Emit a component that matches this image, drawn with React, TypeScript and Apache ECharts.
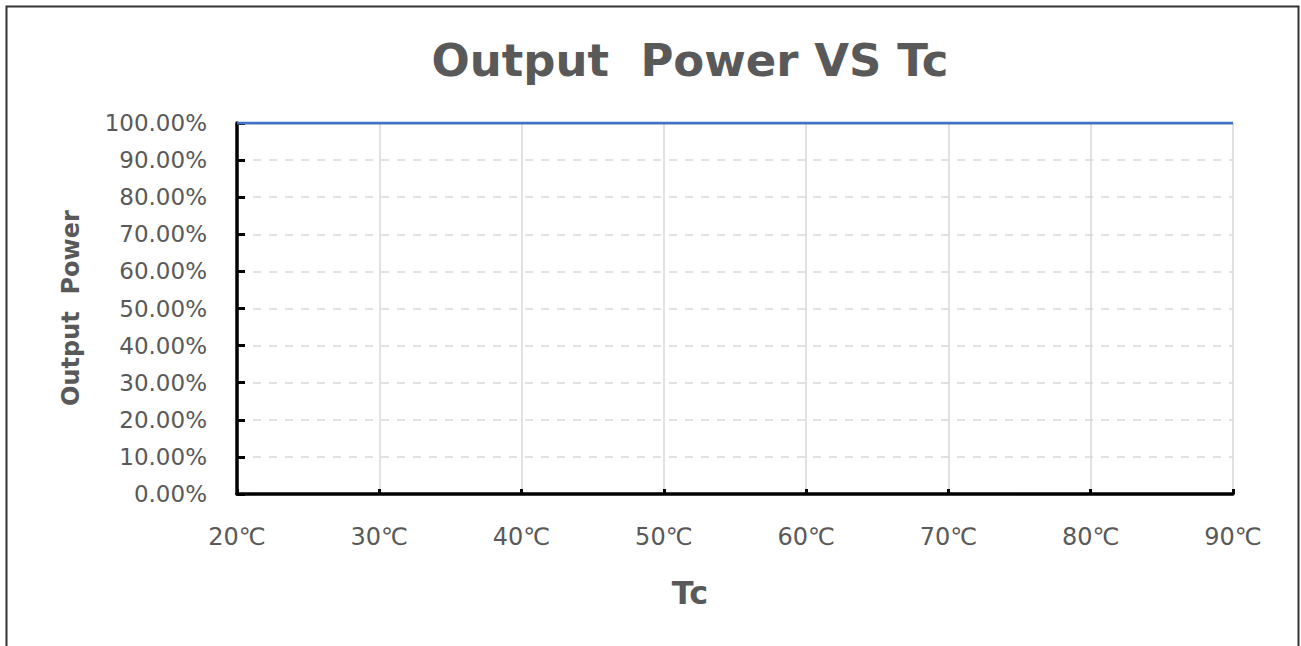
import React, { useEffect, useRef } from "react";
import * as echarts from "echarts";

const temperatures = [20, 30, 40, 50, 60, 70, 80, 90];
const outputPower = [1, 1, 1, 1, 1, 1, 1, 1];
const titleText = "Output  Power VS Tc";
const yTitle = "Output  Power";
const xTitle = "Tc";

export default function App() {
  const ref = useRef<HTMLDivElement>(null);
  useEffect(() => {
    document.body.style.margin = "0";
    const chart = echarts.init(ref.current!, null, { renderer: "svg" });
    const gray = "#595959";
    chart.setOption({
      animation: false,
      backgroundColor: "#ffffff",
      title: {
        text: titleText,
        left: 685,
        top: 33,
        textAlign: "center",
        textStyle: { fontFamily: "DejaVu Sans", fontWeight: "bold", fontSize: 45, color: gray },
      },
      grid: { left: 237, right: 68, top: 123, bottom: 152, containLabel: false },
      xAxis: {
        type: "value",
        min: 20,
        max: 90,
        interval: 10,
        axisLine: { lineStyle: { color: "#000", width: 3.5 } },
        axisTick: { show: true, inside: true, length: 5, lineStyle: { color: "#000", width: 3 } },
        axisLabel: {
          formatter: (v: number) => v + "℃",
          color: gray,
          fontFamily: "DejaVu Sans",
          fontSize: 24,
          margin: 31,
        },
        splitLine: { show: true, lineStyle: { color: "#d9d9d9", width: 1.5, type: "solid" } },
      },
      yAxis: {
        type: "value",
        min: 0,
        max: 1,
        interval: 0.1,
        axisLine: { show: true, lineStyle: { color: "#000", width: 3.5 } },
        axisTick: { show: true, inside: true, length: 8, lineStyle: { color: "#000", width: 3 } },
        axisLabel: {
          formatter: (v: number) => (v * 100).toFixed(2) + "%",
          color: gray,
          fontFamily: "DejaVu Sans",
          fontSize: 23,
          margin: 30,
        },
        splitLine: { show: true, lineStyle: { color: "#d9d9d9", width: 1.5, type: [8, 8] } },
      },
      series: [
        {
          type: "line",
          data: temperatures.map((t, i) => [t, outputPower[i]]),
          showSymbol: false,
          lineStyle: { color: "#4472c4", width: 3 },
          z: 5,
        },
      ],
      graphic: [
        {
          type: "rect",
          shape: { x: 6.5, y: 6.5, width: 1292, height: 700 },
          style: { fill: "none", stroke: "#333333", lineWidth: 2 },
          silent: true,
        },
        {
          type: "text",
          x: 71,
          y: 308,
          rotation: Math.PI / 2,
          style: {
            text: yTitle,
            fontFamily: "DejaVu Sans",
            fontWeight: "bold",
            fontSize: 24,
            fill: gray,
            align: "center",
            verticalAlign: "middle",
          },
        },
        {
          type: "text",
          x: 690,
          y: 593,
          style: {
            text: xTitle,
            fontFamily: "DejaVu Sans",
            fontWeight: "bold",
            fontSize: 32,
            fill: gray,
            align: "center",
            verticalAlign: "middle",
          },
        },
      ],
    });
    return () => chart.dispose();
  }, []);
  return <div ref={ref} style={{ width: 1301, height: 646 }} />;
}
